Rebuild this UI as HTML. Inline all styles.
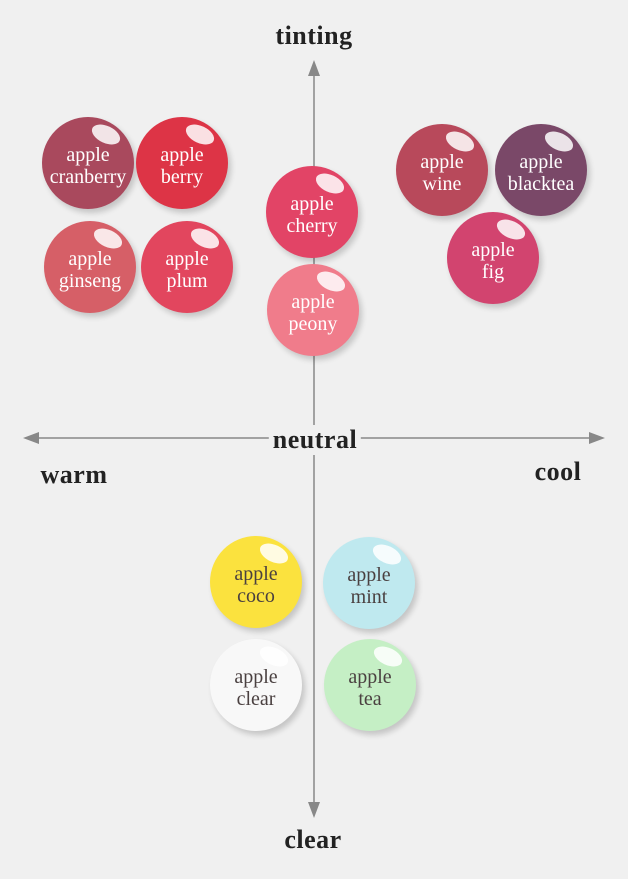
<!DOCTYPE html><html><head><style>
body{margin:0;width:628px;height:879px;background:#f0f0f0;position:relative;overflow:hidden;font-family:"Liberation Serif",serif}
.b{position:absolute;width:92px;height:92px;border-radius:50%;display:flex;align-items:center;justify-content:center;text-align:center;font-size:20px;line-height:22px;color:#fff;box-shadow:3px 4px 6px rgba(0,0,0,.18);padding-top:6px;box-sizing:border-box}
.b::after{content:"";position:absolute;right:13px;top:9px;width:30px;height:17px;border-radius:50%;background:rgba(255,255,255,.85);transform:rotate(25deg)}
.d{color:#4a4040}
.l{position:absolute;font-size:26px;color:#222;transform:translate(-50%,-50%);white-space:nowrap;font-weight:bold;letter-spacing:0.5px}
</style></head><body>
<svg width="628" height="879" style="position:absolute;left:0;top:0">
<g stroke="#888" stroke-width="1.5" fill="#888">
<line x1="314" y1="66" x2="314" y2="812"/>
<line x1="30" y1="438" x2="598" y2="438"/>
<polygon points="314,60 308,76 320,76" stroke="none"/>
<polygon points="314,818 308,802 320,802" stroke="none"/>
<polygon points="23,438 39,432 39,444" stroke="none"/>
<polygon points="605,438 589,432 589,444" stroke="none"/>
</g></svg>
<div class="l" style="left:314px;top:36px">tinting</div>
<div class="l" style="left:315px;top:440px;background:#f0f0f0;padding:0 4px">neutral</div>
<div class="l" style="left:74px;top:475px">warm</div>
<div class="l" style="left:558px;top:472px">cool</div>
<div class="l" style="left:313px;top:840px">clear</div>
<div class="b" style="left:42px;top:117px;background:#a9495d">apple<br>cranberry</div>
<div class="b" style="left:136px;top:117px;background:#dd3446">apple<br>berry</div>
<div class="b" style="left:44px;top:221px;background:#d65f67">apple<br>ginseng</div>
<div class="b" style="left:141px;top:221px;background:#e2465e">apple<br>plum</div>
<div class="b" style="left:266px;top:166px;background:#e24466">apple<br>cherry</div>
<div class="b" style="left:267px;top:264px;background:#f07c8b">apple<br>peony</div>
<div class="b" style="left:396px;top:124px;background:#b8495b">apple<br>wine</div>
<div class="b" style="left:495px;top:124px;background:#7a4868">apple<br>blacktea</div>
<div class="b" style="left:447px;top:212px;background:#d2446f">apple<br>fig</div>
<div class="b d" style="left:210px;top:536px;background:#fbe23e">apple<br>coco</div>
<div class="b d" style="left:323px;top:537px;background:#bfe9ef">apple<br>mint</div>
<div class="b d" style="left:210px;top:639px;background:#f8f8f8">apple<br>clear</div>
<div class="b d" style="left:324px;top:639px;background:#c5efc5">apple<br>tea</div>
</body></html>
